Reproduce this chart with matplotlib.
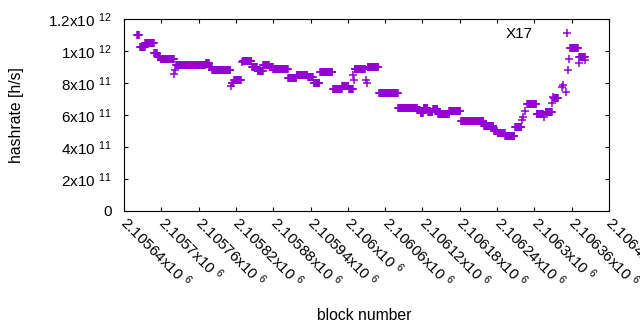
#!/usr/bin/env python3
import numpy as np
import matplotlib
matplotlib.use('Agg')
import matplotlib.pyplot as plt

# Hashrate is constant over runs of blocks: first block, last block, hashrate [1e12 h/s]
RUN_FIRST = [2105661, 2105666, 2105674, 2105689, 2105694, 2105699, 2105721, 2105722, 2105724, 2105772,
             2105777, 2105782, 2105812, 2105813, 2105817, 2105830, 2105831, 2105846, 2105855, 2105864,
             2105874, 2105880, 2105904, 2105918, 2105936, 2105945, 2105956, 2105976, 2105991, 2106002,
             2106009, 2106010, 2106011, 2106029, 2106030, 2106032, 2106050, 2106081, 2106112, 2106117,
             2106122, 2106129, 2106137, 2106145, 2106163, 2106182, 2106219, 2106235, 2106241, 2106253,
             2106269, 2106280, 2106282, 2106285, 2106288, 2106304, 2106315, 2106318, 2106329, 2106330,
             2106331, 2106344, 2106346, 2106351, 2106354, 2106356, 2106358, 2106371, 2106372, 2106382]
RUN_LAST = [2105664, 2105673, 2105688, 2105693, 2105698, 2105720, 2105721, 2105722, 2105771, 2105776,
            2105781, 2105811, 2105812, 2105816, 2105828, 2105830, 2105845, 2105854, 2105863, 2105873,
            2105879, 2105903, 2105917, 2105935, 2105944, 2105954, 2105975, 2105990, 2106001, 2106008,
            2106009, 2106010, 2106027, 2106029, 2106030, 2106049, 2106080, 2106111, 2106116, 2106121,
            2106128, 2106136, 2106144, 2106162, 2106181, 2106218, 2106234, 2106240, 2106252, 2106268,
            2106279, 2106280, 2106282, 2106285, 2106303, 2106314, 2106315, 2106328, 2106329, 2106330,
            2106338, 2106344, 2106346, 2106351, 2106354, 2106356, 2106370, 2106371, 2106381, 2106382]
RUN_RATE = [1.10, 1.027, 1.048, 0.986, 0.964, 0.95, 0.854, 0.88, 0.91, 0.925,
            0.90, 0.88, 0.78, 0.80, 0.82, 0.93, 0.94, 0.898, 0.875, 0.914,
            0.90, 0.89, 0.834, 0.848, 0.84, 0.80, 0.867, 0.76, 0.78, 0.76,
            0.85, 0.82, 0.89, 0.82, 0.80, 0.90, 0.735, 0.642, 0.63, 0.615,
            0.645, 0.62, 0.64, 0.605, 0.623, 0.565, 0.533, 0.50, 0.487, 0.469,
            0.523, 0.57, 0.59, 0.625, 0.667, 0.606, 0.59, 0.62, 0.675, 0.71,
            0.705, 0.777, 0.79, 0.745, 0.88, 0.948, 1.02, 0.923, 0.96, 0.944]

X_TICKS = [2105640, 2105700, 2105760, 2105820, 2105880, 2105940, 2106000,
           2106060, 2106120, 2106180, 2106240, 2106300, 2106360, 2106420]
X_TICK_LABELS = ['2.10564x10 $^{6}$', '2.1057x10 $^{6}$', '2.10576x10 $^{6}$', '2.10582x10 $^{6}$',
                 '2.10588x10 $^{6}$', '2.10594x10 $^{6}$', '2.106x10 $^{6}$', '2.10606x10 $^{6}$',
                 '2.10612x10 $^{6}$', '2.10618x10 $^{6}$', '2.10624x10 $^{6}$', '2.1063x10 $^{6}$',
                 '2.10636x10 $^{6}$', '2.10642x10 $^{6}$']
Y_TICKS = [0, 2e11, 4e11, 6e11, 8e11, 1e12, 1.2e12]
Y_TICK_LABELS = ['0', '2x10 $^{11}$', '4x10 $^{11}$', '6x10 $^{11}$', '8x10 $^{11}$',
                 '1x10 $^{12}$', '1.2x10 $^{12}$']

SERIES_LABEL = 'X17'
COLOR = '#9400d3'


def expand_runs():
    """Turns the runs into one point per block."""
    blocks = np.concatenate([np.arange(a, b + 1) for a, b in zip(RUN_FIRST, RUN_LAST)])
    rates = np.concatenate([np.full(b - a + 1, r * 1e12) for a, b, r in zip(RUN_FIRST, RUN_LAST, RUN_RATE)])
    return blocks, rates


def main():
    plt.rcParams['font.family'] = ['Liberation Sans', 'DejaVu Sans']
    plt.rcParams['mathtext.fontset'] = 'custom'
    plt.rcParams['mathtext.rm'] = 'Liberation Sans'
    plt.rcParams['mathtext.default'] = 'regular'
    fontsize = 11

    fig = plt.figure(figsize=(6.4, 3.3), dpi=100)
    ax = fig.add_axes([124 / 640, 1 - 211 / 330, 485 / 640, 192 / 330])

    x, y = expand_runs()
    ax.plot(x, y, linestyle='none', marker='+', markersize=5.5, markeredgewidth=1.1,
            color=COLOR, label=SERIES_LABEL)

    ax.set_xlim(X_TICKS[0], X_TICKS[-1])
    ax.set_ylim(Y_TICKS[0], Y_TICKS[-1])

    ax.set_xticks(X_TICKS)
    ax.set_xticklabels(X_TICK_LABELS, rotation=-45, ha='left', va='center',
                       rotation_mode='anchor', fontsize=fontsize)
    ax.set_yticks(Y_TICKS)
    ax.set_yticklabels(Y_TICK_LABELS, fontsize=fontsize)

    ax.tick_params(direction='in', length=3, width=0.8, top=True, right=True, color='black')
    ax.tick_params(axis='x', pad=6)
    ax.tick_params(axis='y', pad=9)
    for spine in ax.spines.values():
        spine.set_linewidth(0.8)

    fig.text(17 / 640, 1 - 115 / 330, 'hashrate [h/s]', rotation=90, ha='center', va='center',
             fontsize=11.3)
    fig.text(364 / 640, 1 - 316 / 330, 'block number', ha='center', va='center', fontsize=11.3)

    ax.legend(loc='upper right', bbox_to_anchor=(0.955, 0.958), frameon=False, markerfirst=False,
              handlelength=2.6, handletextpad=1.0, borderpad=0, borderaxespad=0, fontsize=fontsize)

    fig.savefig('out.png', dpi=100)


if __name__ == '__main__':
    main()
